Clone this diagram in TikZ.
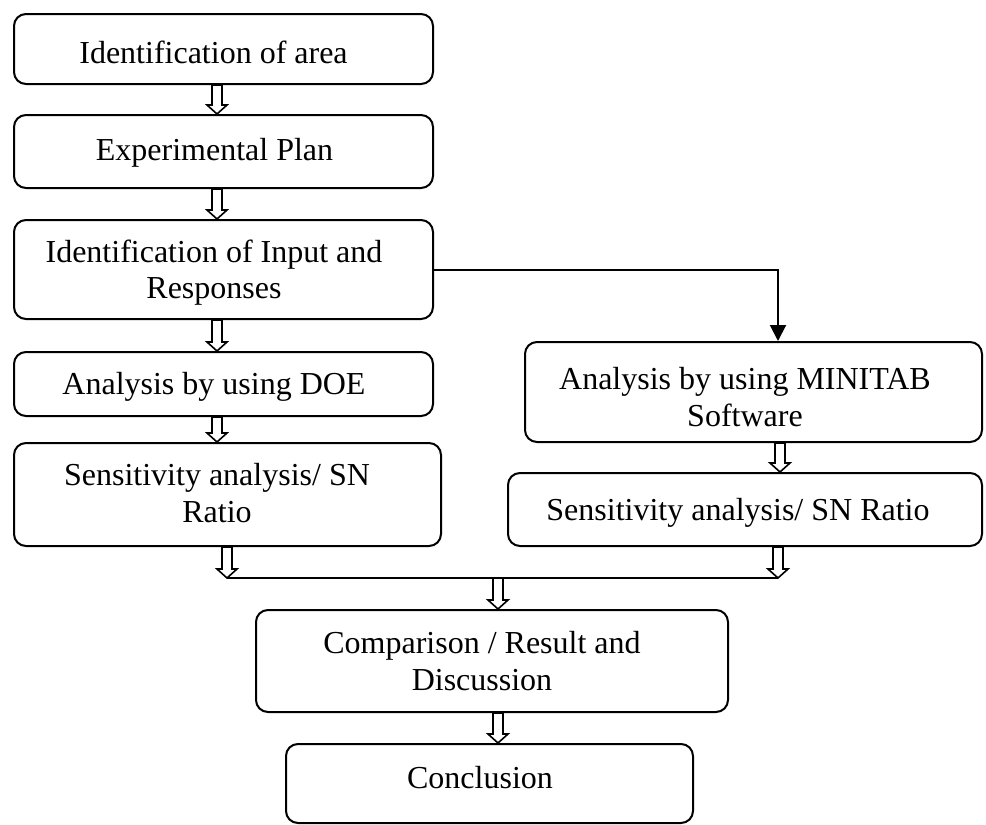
\documentclass[tikz,border=0pt]{standalone}
\usepackage{fontspec}
\setmainfont{Liberation Serif}
\usetikzlibrary{calc,arrows.meta}
\newcommand\hollowarr[2]{\path[hollow] let \p1=#1, \p2=#2 in
  (\x1-5pt,\y1) -- (\x1+5pt,\y1) -- (\x1+5pt,\y2+9pt) -- (\x1+10pt,\y2+9pt)
  -- (\x1,\y2) -- (\x1-10pt,\y2+9pt) -- (\x1-5pt,\y2+9pt) -- cycle;}
\begin{document}
\begin{tikzpicture}[x=1pt,y=-1pt,
  box/.style={draw, line width=2pt, rounded corners=12pt, inner sep=0pt},
  txt/.style={font=\fontsize{32}{37}\selectfont, anchor=base, inner sep=0pt},
  hollow/.style={draw, line width=1.6pt, fill=white, line join=miter},
  conn/.style={draw, line width=2pt}]
\useasboundingbox[fill=white] (0,0) rectangle (986,825);

% boxes
\node[box, minimum width=419pt, minimum height=70pt]  (b1) at (223.5,49) {};
\node[box, minimum width=419pt, minimum height=73pt]  (b2) at (223.5,151.5) {};
\node[box, minimum width=419pt, minimum height=99pt]  (b3) at (223.5,269.5) {};
\node[box, minimum width=419pt, minimum height=64pt]  (b4) at (223.5,384) {};
\node[box, minimum width=427pt, minimum height=103pt] (b5) at (227.5,494.5) {};
\node[box, minimum width=457pt, minimum height=100pt] (m1) at (753.5,392) {};
\node[box, minimum width=474pt, minimum height=73pt]  (m2) at (745,509.5) {};
\node[box, minimum width=472pt, minimum height=102pt] (c1) at (492,661) {};
\node[box, minimum width=407pt, minimum height=79pt]  (c2) at (489.5,783.5) {};

% texts
\node[txt] (t1)  at (213.5,63)  {Identification of area};
\node[txt] (t2)  at (214.5,160) {Experimental Plan};
\node[txt] (t3a) at (214,262)   {Identification of Input and};
\node[txt] (t3b) at (214,298)   {Responses};
\node[txt] (t4)  at (214,394)   {Analysis by using DOE};
\node[txt] (t5a) at (217,485)   {Sensitivity analysis/ SN};
\node[txt] (t5b) at (217,522)   {Ratio};
\node[txt] (m1a) at (745,389)   {Analysis by using MINITAB};
\node[txt] (m1b) at (745,426)   {Software};
\node[txt] (m2a) at (738,520)   {Sensitivity analysis/ SN Ratio};
\node[txt] (c1a) at (482,653)   {Comparison / Result and};
\node[txt] (c1b) at (482,690)   {Discussion};
\node[txt] (c2a) at (480,788)   {Conclusion};

% reference columns
\coordinate (cL)  at (217,0);
\coordinate (cL2) at (227,0);
\coordinate (cR)  at (780,0);
\coordinate (rx)  at (778,0);
\coordinate (cM)  at (498,0);
\coordinate (jL)  at (227,578);
\coordinate (jR)  at (778,578);

% connector to MINITAB
\draw[conn, -{Triangle[length=16pt,width=16pt]}] (b3.east) -| (rx |- m1.north);

% hollow arrows
\hollowarr{(b1.south -| cL)}{(b2.north -| cL)}
\hollowarr{(b2.south -| cL)}{(b3.north -| cL)}
\hollowarr{(b3.south -| cL)}{(b4.north -| cL)}
\hollowarr{(b4.south -| cL)}{(b5.north -| cL)}
\hollowarr{(m1.south -| cR)}{(m2.north -| cR)}
\draw[conn] (jL) -- (jR);
\hollowarr{(b5.south -| cL2)}{(jL)}
\hollowarr{(m2.south -| jR)}{(jR)}
\hollowarr{(jL -| cM)}{(c1.north -| cM)}
\hollowarr{(c1.south -| cM)}{(c2.north -| cM)}
\end{tikzpicture}
\end{document}
